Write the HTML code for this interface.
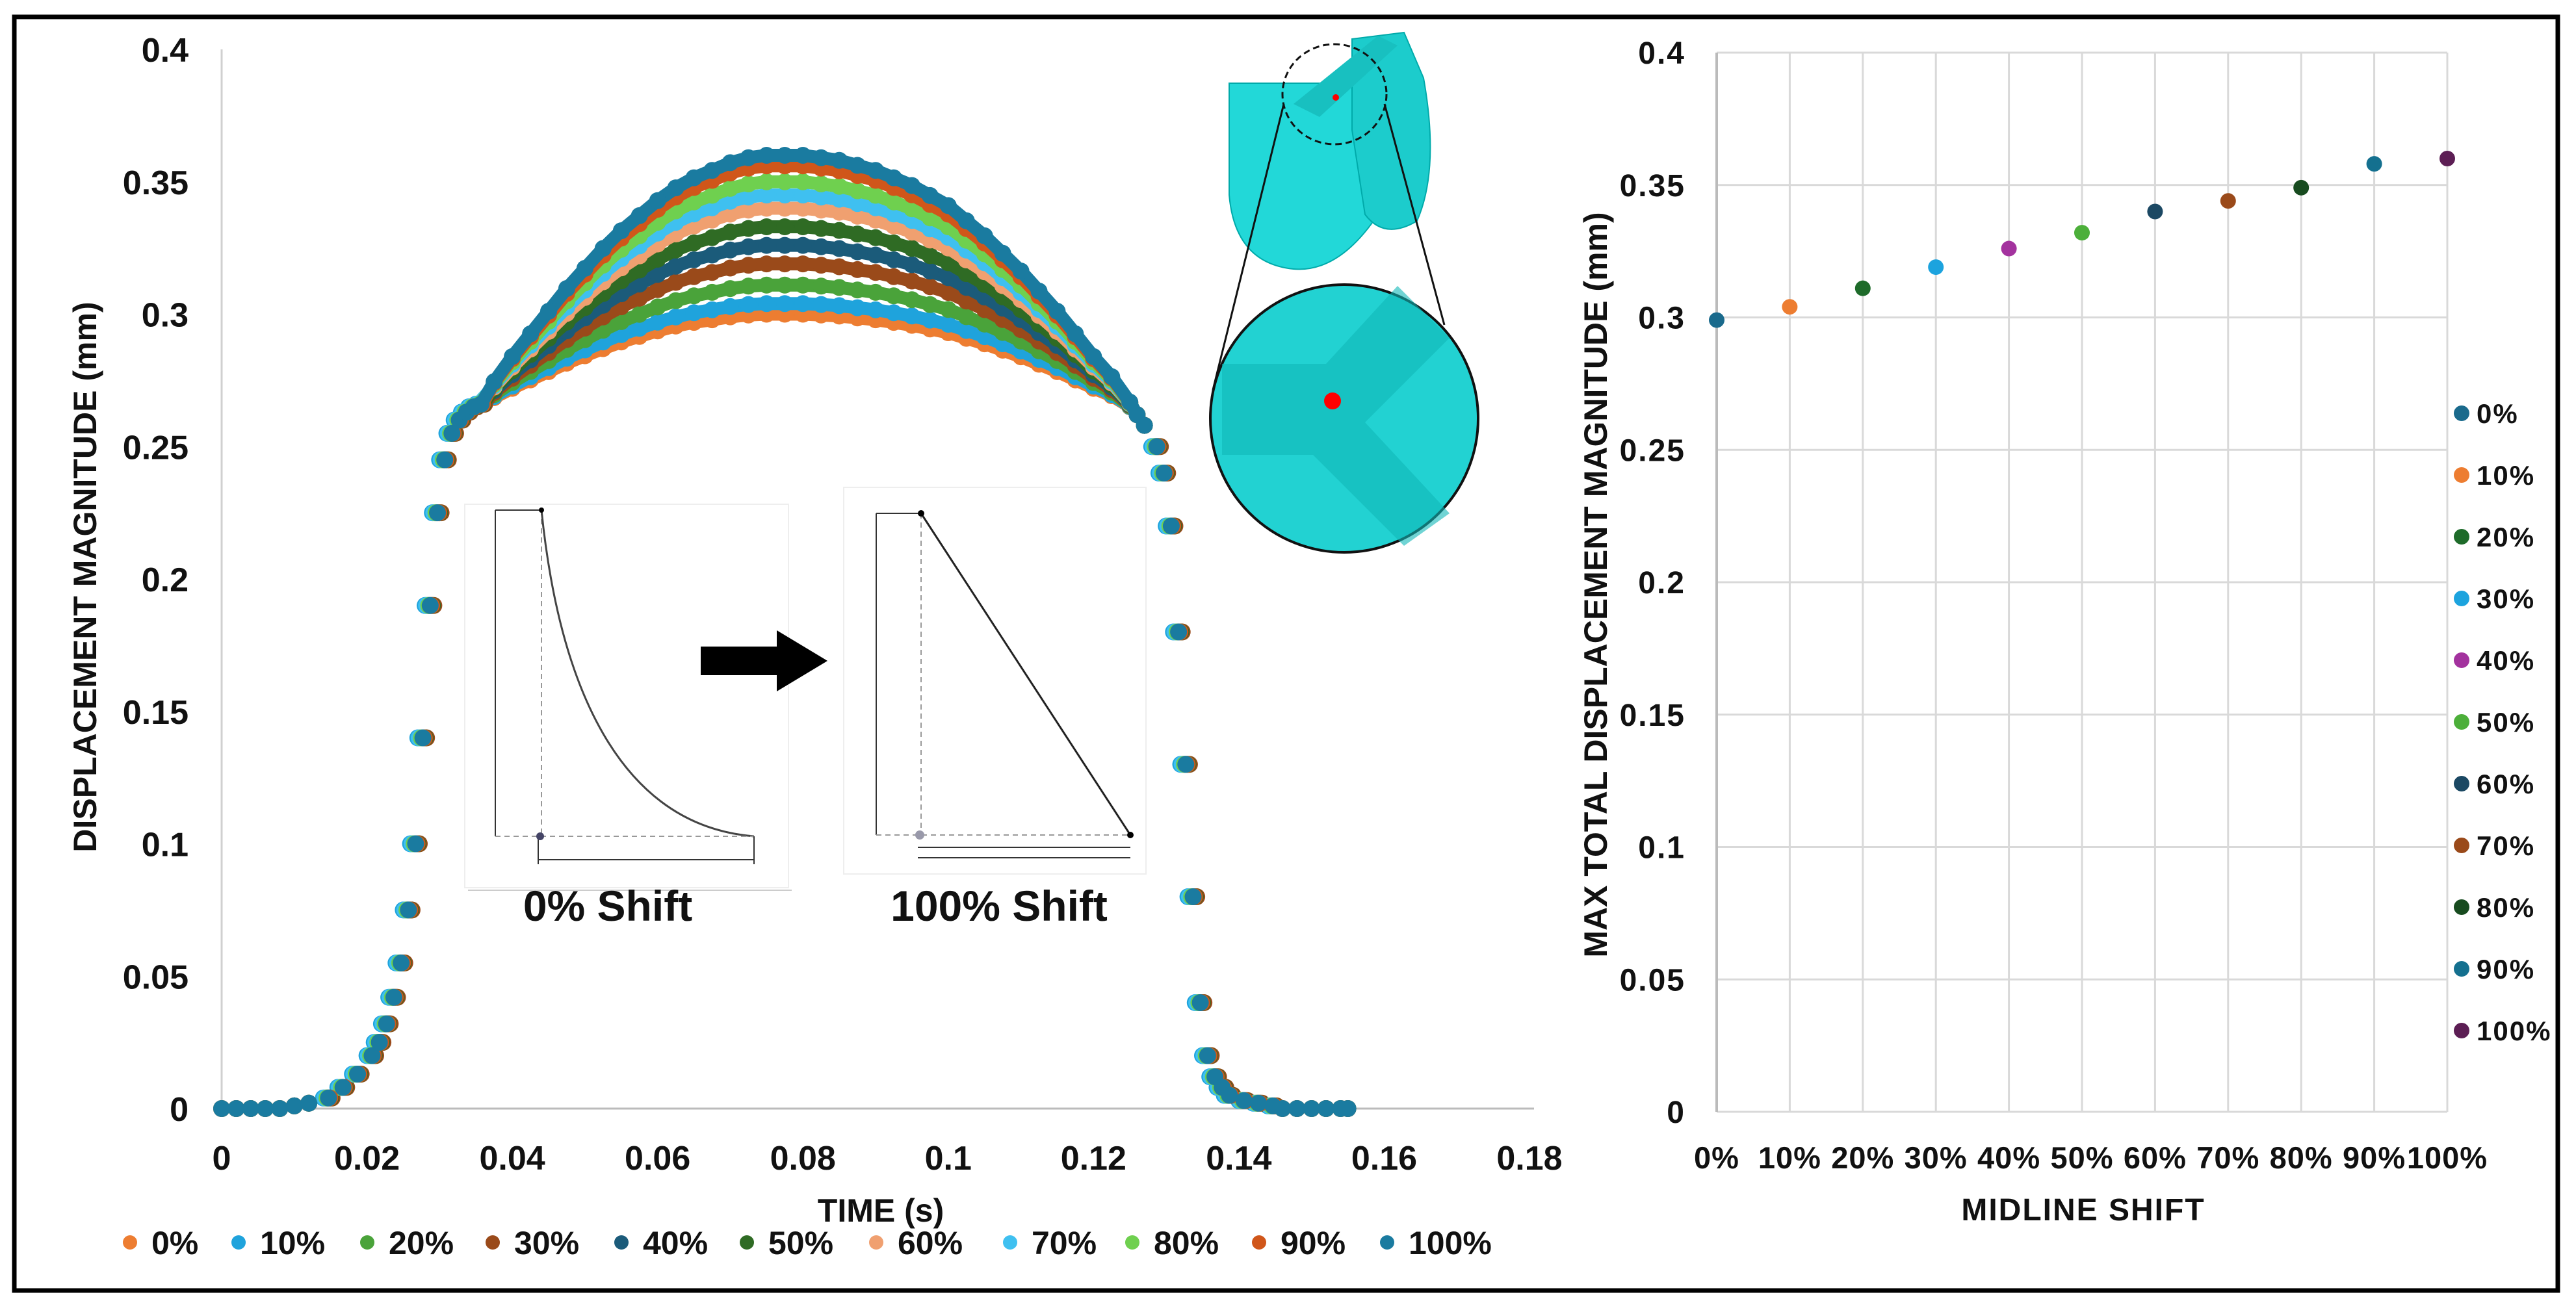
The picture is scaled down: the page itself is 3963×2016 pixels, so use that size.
<!DOCTYPE html>
<html><head><meta charset="utf-8"><style>
html,body{margin:0;padding:0;background:#fff}
svg{display:block}
text{font-family:"Liberation Sans",Arial,sans-serif;font-weight:bold;fill:#111}
</style></head><body>
<svg id="fig" width="3963" height="2016" viewBox="0 0 3963 2016" xmlns="http://www.w3.org/2000/svg">
<rect x="0" y="0" width="3963" height="2016" fill="#fff"/>
<rect x="22" y="26" width="3913" height="1960" fill="none" stroke="#000" stroke-width="7"/>
<g id="left"></g>
<g id="insets">
  <g>
    <rect x="715" y="776" width="498" height="590" fill="#fff" stroke="#eee" stroke-width="2"/>
    <line x1="762" y1="785" x2="762" y2="1287" stroke="#333" stroke-width="2"/>
    <line x1="762" y1="785" x2="833" y2="785" stroke="#333" stroke-width="2"/>
    <line x1="833" y1="785" x2="833" y2="1287" stroke="#999" stroke-width="2" stroke-dasharray="8 6"/>
    <path d="M833 785 C 860 1050, 950 1270, 1160 1287" fill="none" stroke="#444" stroke-width="3"/>
    <line x1="762" y1="1287" x2="1160" y2="1287" stroke="#999" stroke-width="2" stroke-dasharray="8 6"/>
    <line x1="828" y1="1323" x2="1160" y2="1323" stroke="#333" stroke-width="2"/>
    <line x1="828" y1="1287" x2="828" y2="1330" stroke="#333" stroke-width="2"/>
    <line x1="1160" y1="1287" x2="1160" y2="1330" stroke="#333" stroke-width="2"/>
    <circle cx="831" cy="1287" r="6" fill="#446"/>
    <circle cx="833" cy="785" r="4" fill="#000"/>
    <line x1="720" y1="1370" x2="1218" y2="1370" stroke="#ccc" stroke-width="2"/>
    <text x="935" y="1417" font-size="66" text-anchor="middle">0% Shift</text>
  </g>
  <g>
    <rect x="1078" y="995" width="120" height="44" fill="#000"/>
    <polygon points="1195,970 1273,1017 1195,1064" fill="#000"/>
  </g>
  <g>
    <rect x="1298" y="750" width="465" height="595" fill="#fff" stroke="#eee" stroke-width="2"/>
    <line x1="1348" y1="790" x2="1348" y2="1285" stroke="#333" stroke-width="2"/>
    <line x1="1348" y1="790" x2="1417" y2="790" stroke="#333" stroke-width="2"/>
    <line x1="1417" y1="790" x2="1417" y2="1285" stroke="#999" stroke-width="2" stroke-dasharray="8 6"/>
    <line x1="1417" y1="790" x2="1739" y2="1285" stroke="#222" stroke-width="3"/>
    <line x1="1348" y1="1285" x2="1739" y2="1285" stroke="#999" stroke-width="2" stroke-dasharray="8 6"/>
    <line x1="1412" y1="1304" x2="1739" y2="1304" stroke="#333" stroke-width="2"/>
    <line x1="1412" y1="1320" x2="1739" y2="1320" stroke="#333" stroke-width="2"/>
    <circle cx="1415" cy="1285" r="7" fill="#99a" />
    <circle cx="1417" cy="790" r="5" fill="#000"/>
    <circle cx="1739" cy="1285" r="5" fill="#000"/>
    <text x="1537" y="1417" font-size="66" text-anchor="middle">100% Shift</text>
  </g>
  <g>
    <path d="M1891 128 L2120 128 L2120 330 Q2060 420 1990 414 Q1900 405 1891 300 Z" fill="#22d8d8" stroke="#0aa" stroke-width="2"/>
    <path d="M2080 60 L2160 50 L2190 120 Q2215 260 2180 340 Q2130 370 2100 330 L2080 200 Z" fill="#1ccccc" stroke="#0aa" stroke-width="2"/>
    <path d="M1990 160 L2120 55 L2150 70 L2030 180 Z" fill="#18c0c0"/>
    <ellipse cx="2053" cy="145" rx="80" ry="77" fill="none" stroke="#111" stroke-width="3" stroke-dasharray="10 6"/>
    <circle cx="2055" cy="150" r="5" fill="#f00"/>
    <line x1="1975" y1="160" x2="1866" y2="600" stroke="#111" stroke-width="3"/>
    <line x1="2130" y1="160" x2="2222" y2="500" stroke="#111" stroke-width="3"/>
    <circle cx="2068" cy="644" r="206" fill="#22d2d2" stroke="#111" stroke-width="4"/>
    <path d="M1880 560 L2040 560 L2150 440 L2230 520 L2100 650 L2230 790 L2160 840 L2020 700 L1880 700 Z" fill="#10b8b8" opacity="0.6"/>
    <circle cx="2050" cy="617" r="13" fill="#f00"/>
  </g>
</g>
<g id="right"></g>
</svg>
<script>
// ---------- LEFT CHART DATA ----------
const seriesLabels = ["0%","10%","20%","30%","40%","50%","60%","70%","80%","90%","100%"];
const seriesColors = ["#ed7d31","#1fa3dc","#4aa33a","#9a4a1a","#1b5b7a","#2f6b24","#f0a070","#3fc0f0","#6fd04f","#d0561a","#1a7ba0"];
const seriesPeaks = [0.300,0.304,0.311,0.319,0.326,0.333,0.340,0.345,0.350,0.356,0.360];
const seriesLag = [0.0008,0.0,0.0004,0.0012,0.0006,0.0010,0.0003,0.0002,0.0005,0.0009,0.0007];
const times = [0,0.002,0.004,0.006,0.008,0.010,0.012,0.014,0.016,0.018,0.020,0.021,0.022,0.023,0.024,0.025,0.026,0.027,0.028,0.029,0.030,0.031,0.032,0.033,0.034,0.035,
0.0375,0.04,0.0425,0.045,0.0475,0.05,0.0525,0.055,0.0575,0.06,0.0625,0.065,0.0675,0.07,0.0725,0.075,0.0775,0.08,0.0825,0.085,0.0875,0.09,0.0925,0.095,0.0975,0.1,0.1025,0.105,0.1075,0.11,0.1125,0.115,0.1175,0.12,0.1225,
0.125,0.126,0.127,0.128,0.129,0.130,0.131,0.132,0.133,0.134,0.135,0.136,0.137,0.138,0.14,0.142,0.144,0.146,0.148,0.15,0.152,0.154,0.155];
const baseCurve = [0,0,0,0,0,0.001,0.002,0.004,0.008,0.013,0.020,0.025,0.032,0.042,0.055,0.075,0.10,0.14,0.19,0.225,0.245,0.255,0.260,0.263,0.265,0.266,
0.2685,0.272,0.2752,0.2783,0.2815,0.2843,0.287,0.2895,0.2916,0.2937,0.2955,0.2969,0.2979,0.299,0.2997,0.300,0.300,0.300,0.2997,0.2993,0.2986,0.2979,0.2969,0.2958,0.2944,0.293,0.2909,0.2888,0.2864,0.2839,0.2811,0.2783,0.2752,0.272,0.2692,
0.265,0.262,0.258,0.25,0.24,0.22,0.18,0.13,0.08,0.04,0.02,0.012,0.008,0.005,0.003,0.002,0.001,0,0,0,0,0,0];
const peakWeight = [0,0,0,0,0,0,0,0,0,0,0,0,0,0,0,0,0,0,0,0,0,0,0,0,0,0,
0.1,0.2,0.29,0.38,0.47,0.55,0.63,0.7,0.76,0.82,0.87,0.91,0.94,0.97,0.99,1,1,1,0.99,0.98,0.96,0.94,0.91,0.88,0.84,0.8,0.74,0.68,0.61,0.54,0.46,0.38,0.29,0.2,0.12,
0.03,0,0,0,0,0,0,0,0,0,0,0,0,0,0,0,0,0,0,0,0,0,0];
const xTicks = [0,0.02,0.04,0.06,0.08,0.1,0.12,0.14,0.16,0.18];
const xTickLabels = ["0","0.02","0.04","0.06","0.08","0.1","0.12","0.14","0.16","0.18"];
const yTicks = [0,0.05,0.1,0.15,0.2,0.25,0.3,0.35,0.4];
const yTickLabels = ["0","0.05","0.1","0.15","0.2","0.25","0.3","0.35","0.4"];

// ---------- RIGHT CHART DATA ----------
const shiftLabels = ["0%","10%","20%","30%","40%","50%","60%","70%","80%","90%","100%"];
const maxDisp = [0.299,0.304,0.311,0.319,0.326,0.332,0.340,0.344,0.349,0.358,0.360];
const shiftColors = ["#1a6a8c","#ed7d31","#1e6b2a","#1ca3de","#a3329e","#4caf3a","#1b4863","#9a4a1a","#174b1f","#14708f","#5c1e54"];
const yTicksR = [0,0.05,0.1,0.15,0.2,0.25,0.3,0.35,0.4];
const yTickLabelsR = ["0","0.05","0.1","0.15","0.2","0.25","0.3","0.35","0.4"];

const NS = "http://www.w3.org/2000/svg";
function mk(parent, tag, attrs, txt){
  const e = document.createElementNS(NS, tag);
  for (const k in attrs) e.setAttribute(k, attrs[k]);
  if (txt !== undefined) e.textContent = txt;
  parent.appendChild(e);
  return e;
}

const L = document.getElementById('left');
const lx = t => 341 + (t / 0.18) * (2353 - 341);
const ly = v => 1706 - (v / 0.4) * (1706 - 76);
let e;
e = mk(L,'line',{x1:lx(0),y1:ly(0.4),x2:lx(0),y2:ly(0),stroke:'#d0d0d0','stroke-width':3});


e = mk(L,'line',{x1:lx(0),y1:ly(0),x2:2360,y2:ly(0),stroke:'#bbb','stroke-width':3});


yTicks.forEach((v,i)=>{
  e = mk(L,'text',{x:290,y:ly(v)+19,'font-size':52,'text-anchor':'end'},yTickLabels[i]);
  
  
});
xTicks.forEach((v,i)=>{
  e = mk(L,'text',{x:lx(v),y:1800,'font-size':52,'text-anchor':'middle'},xTickLabels[i]);
  
  
});
e = mk(L,'text',{x:1355,y:1880,'font-size':50,'text-anchor':'middle'},'TIME (s)');


e = mk(L,'text',{x:0,y:0,'font-size':50,'text-anchor':'middle',transform:'translate(148,888) rotate(-90)'},'DISPLACEMENT MAGNITUDE  (mm)');



seriesLabels.forEach((lab,s)=>{
  const g = mk(L,'g',{});
  
  
  const dp = seriesPeaks[s] - seriesPeaks[0];
  const pts = [];
  const bandPts = [];
  times.forEach((t,j)=>{
    const v = baseCurve[j] + dp*peakWeight[j];
    const tt = (t>0.012 && t<0.036) || (t>0.127 && t<0.145) ? t + seriesLag[s] : t;
    pts.push([lx(tt), ly(v)]);
    if (t >= 0.034 && t <= 0.126) bandPts.push([lx(tt), ly(v)]);
  });
  const band = mk(g,'polyline',{points:bandPts.map(p=>p[0].toFixed(1)+','+p[1].toFixed(1)).join(' '),fill:'none',stroke:seriesColors[s],'stroke-width':20,'stroke-linejoin':'round','stroke-linecap':'round'});
  
  
  pts.forEach(p=>{
    const c = mk(g,'circle',{cx:p[0].toFixed(1),cy:p[1].toFixed(1),r:13,fill:seriesColors[s]});
    
    
  });
});
const legX = [200,367,565,758,956,1149,1348,1554,1742,1937,2134];
seriesLabels.forEach((lab,s)=>{
  const g = mk(L,'g',{});
  
  
  mk(g,'circle',{cx:legX[s],cy:1912,r:11,fill:seriesColors[s]});
  mk(g,'text',{x:legX[s]+33,y:1930,'font-size':50},lab);
});

const R = document.getElementById('right');
const rx = i => 2641 + i * (3765 - 2641) / 10;
const ry = v => 1711 - (v / 0.4) * (1711 - 81);
yTicksR.forEach((v,i)=>{
  e = mk(R,'line',{x1:rx(0),y1:ry(v),x2:rx(10),y2:ry(v),stroke:'#d9d9d9','stroke-width':3});
  
  
  e = mk(R,'text',{x:2593,y:ry(v)+17,'font-size':48,'text-anchor':'end','letter-spacing':2},yTickLabelsR[i]);
  
  
});
shiftLabels.forEach((lab,i)=>{
  e = mk(R,'line',{x1:rx(i),y1:ry(0.4),x2:rx(i),y2:ry(0),stroke:'#d9d9d9','stroke-width':3});
  
  
  e = mk(R,'text',{x:rx(i),y:1798,'font-size':47,'text-anchor':'middle','letter-spacing':1},lab);
  
  
});
e = mk(R,'line',{x1:rx(0),y1:ry(0.4),x2:rx(0),y2:ry(0),stroke:'#bbb','stroke-width':4});


e = mk(R,'text',{x:3205,y:1878,'font-size':48,'text-anchor':'middle','letter-spacing':2},'MIDLINE SHIFT');


e = mk(R,'text',{x:0,y:0,'font-size':50,'text-anchor':'middle',transform:'translate(2472,900) rotate(-90)'},'MAX TOTAL DISPLACEMENT MAGNITUDE (mm)');


maxDisp.forEach((v,i)=>{
  e = mk(R,'circle',{cx:rx(i),cy:ry(v),r:12,fill:shiftColors[i]});
  
  
});
shiftLabels.forEach((lab,i)=>{
  const g = mk(R,'g',{});
  
  
  const y = 636 + i*95;
  mk(g,'circle',{cx:3787,cy:y,r:12,fill:shiftColors[i]});
  mk(g,'text',{x:3810,y:y+15,'font-size':42,'letter-spacing':2},lab);
});
</script>
</body></html>
